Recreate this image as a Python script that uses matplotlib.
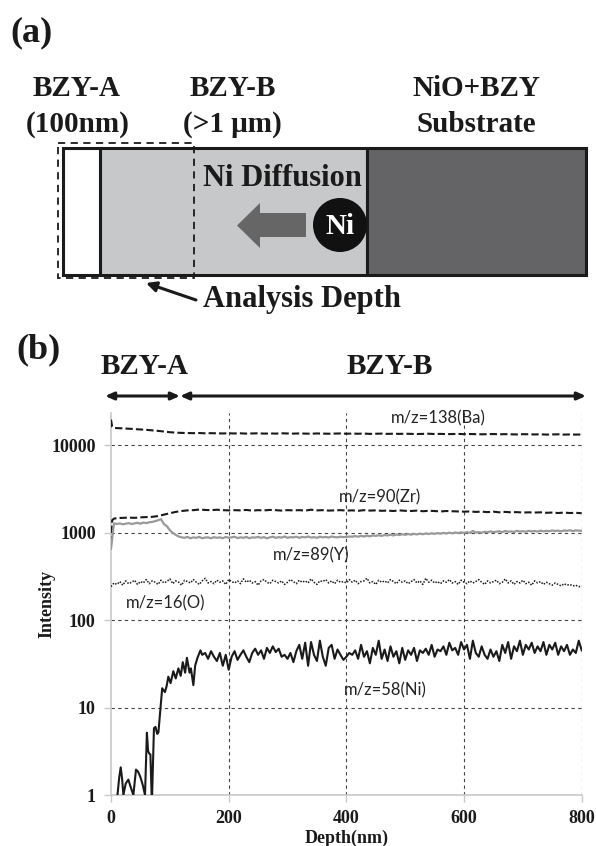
import numpy as np
import matplotlib
matplotlib.use("Agg")
import matplotlib.pyplot as plt
from matplotlib.patches import Rectangle, Circle, Polygon
from matplotlib.ticker import FixedLocator, NullLocator

# ---------------- data ----------------
x_ticks = [0, 200, 400, 600, 800]
y_ticks = [1, 10, 100, 1000, 10000]
y_tick_labels = ["1", "10", "100", "1000", "10000"]

major_depth = np.concatenate([[0, 2, 5], np.arange(10, 801, 10)])
ba_138 = [19500, 16200, 15700,
          15600, 15500, 15350, 15200, 15050, 14900, 14700, 14500, 14250, 14000,
          13850, 13750, 13700, 13650, 13700, 13600, 13650, 13600, 13550, 13600,
          13550, 13600, 13500, 13550, 13600, 13500, 13550, 13500, 13600, 13550,
          13500, 13550, 13500, 13450, 13550, 13500, 13450, 13500, 13550, 13450,
          13500, 13450, 13500, 13400, 13450, 13500, 13400, 13450, 13400, 13450,
          13400, 13350, 13400, 13450, 13350, 13400, 13300, 13350, 13400, 13300,
          13350, 13300, 13250, 13300, 13350, 13250, 13300, 13250, 13200, 13300,
          13250, 13200, 13250, 13150, 13200, 13250, 13150, 13200, 13150, 13200]
zr_90 = [750, 1380, 1440,
         1460, 1470, 1480, 1470, 1490, 1500, 1510, 1540, 1600, 1660,
         1720, 1760, 1790, 1800, 1830, 1810, 1800, 1820, 1800, 1790,
         1800, 1790, 1810, 1780, 1800, 1790, 1810, 1800, 1780, 1800,
         1790, 1800, 1780, 1820, 1790, 1800, 1780, 1790, 1800, 1780,
         1790, 1770, 1800, 1780, 1790, 1770, 1780, 1760, 1790, 1770,
         1760, 1780, 1750, 1770, 1760, 1740, 1760, 1750, 1740, 1730,
         1740, 1720, 1730, 1710, 1730, 1700, 1720, 1700, 1710, 1690,
         1700, 1690, 1700, 1680, 1690, 1670, 1690, 1670, 1680, 1660]

fine_depth = np.arange(0, 801, 5)
y_89 = [650, 1270, 1250, 1270, 1240, 1260, 1280, 1250, 1270, 1290,
        1260, 1300, 1280, 1310, 1320, 1350, 1380, 1420, 1250, 1180,
        1060, 990, 940, 900, 880, 870, 890, 860, 880, 870,
        890, 860, 875, 880, 860, 885, 870, 880, 860, 890,
        870, 880, 895, 865, 880, 870, 890, 860, 880, 875,
        890, 870, 885, 860, 880, 895, 870, 885, 875, 900,
        870, 885, 880, 895, 870, 890, 880, 900, 875, 885,
        870, 895, 880, 890, 875, 900, 885, 880, 895, 885,
        890, 900, 895, 910, 895, 915, 900, 920, 905, 925,
        915, 930, 915, 935, 925, 945, 925, 950, 935, 955,
        940, 960, 945, 965, 950, 970, 955, 975, 960, 980,
        965, 985, 970, 990, 975, 995, 980, 1000, 985, 1005,
        990, 1010, 990, 1040, 1000, 1010, 995, 1020, 1005, 1030,
        1010, 1020, 1035, 1010, 1040, 1020, 1030, 1015, 1045, 1025,
        1035, 1020, 1045, 1030, 1040, 1025, 1050, 1030, 1045, 1035,
        1055, 1040, 1050, 1030, 1055, 1045, 1060, 1040, 1055, 1050, 1045]
o_16 = [240, 265, 255, 275, 250, 280, 260, 270, 285, 255, 275, 265, 290, 260, 280, 270, 255, 285, 265, 275,
        295, 260, 280, 270, 250, 285, 275, 265, 290, 270, 255, 280, 300, 265, 275, 260, 285, 270, 280, 255,
        290, 275, 265, 280, 260, 295, 270, 285, 265, 275, 250, 280, 290, 270, 260, 285, 275, 265, 280, 255,
        270, 290, 275, 260, 285, 270, 280, 265, 295, 270, 255, 280, 275, 290, 265, 280, 260, 285, 270, 275,
        265, 290, 270, 285, 260, 275, 280, 300, 265, 275, 255, 285, 270, 280, 265, 290, 275, 260, 285, 270,
        280, 260, 275, 290, 265, 280, 255, 300, 270, 285, 265, 275, 260, 280, 270, 290, 265, 275, 255, 285,
        270, 260, 280, 265, 275, 290, 270, 255, 280, 265, 275, 285, 260, 270, 295, 265, 280, 255, 275, 265,
        285, 260, 270, 250, 280, 265, 275, 255, 270, 260, 250, 265, 255, 245, 260, 250, 255, 245, 250, 240, 245]

ni_depth_early = [8, 11, 14, 16.5, 19, 21, 25, 29.5, 34, 38, 42.5, 46, 50, 54, 57.8,
                  61, 63, 64.6, 67, 69.5, 73, 75.6, 78.5, 80.6, 87, 91.6, 94.5, 97.4,
                  101.3, 105.9, 110, 114.5, 118.5, 122, 126, 129, 133.5, 135.8, 140,
                  143, 147, 152]
ni_early = [0.5, 1.0, 1.6, 2.07, 1.5, 1.0, 1.35, 1.5, 1.2, 1.0, 1.95, 1.85, 1.6, 1.3, 1.0,
            5.15, 3.2, 3.0, 2.9, 0.8, 5.8, 6.0, 5.0, 5.2, 16.6, 15, 17.5, 22.5,
            19, 26, 21.5, 28, 23, 33, 25, 37, 25, 28, 18,
            30, 37, 45]
ni_depth_late = np.arange(155, 801, 5)
ni_late = [40, 42, 36, 44, 38, 34, 42, 30, 40, 27,
           38, 44, 35, 40, 45, 38, 33, 42, 47, 40,
           45, 36, 48, 42, 50, 43, 47, 38, 40, 36,
           42, 33, 44, 52, 36, 55, 30, 56, 40, 34,
           58, 38, 30, 48, 52, 36, 46, 40, 35, 38,
           42, 40, 45, 36, 52, 38, 44, 32, 48, 40,
           58, 36, 46, 34, 50, 38, 44, 32, 48, 35,
           45, 40, 48, 34, 45, 42, 47, 40, 52, 38,
           46, 44, 50, 40, 55, 45, 48, 40, 56, 46,
           52, 36, 58, 42, 38, 50, 40, 36, 46, 38,
           44, 34, 52, 42, 56, 36, 50, 44, 58, 40,
           52, 46, 55, 42, 50, 44, 56, 40, 52, 46,
           55, 40, 50, 44, 52, 40, 46, 42, 58, 45]
ni_depth = np.concatenate([ni_depth_early, ni_depth_late])
ni_58 = np.array(ni_early + ni_late, dtype=float)

# ---------------- figure ----------------
W, H = 596, 846
fig = plt.figure(figsize=(W / 100, H / 100), dpi=100)
SERIF = ["Liberation Serif", "DejaVu Serif"]
SANS = ["Lato", "DejaVu Sans"]

deco = fig.add_axes([0, 0, 1, 1], zorder=0)
deco.set_xlim(0, W)
deco.set_ylim(H, 0)
deco.axis("off")

def txt(x, y, s, size, ha="center", color="#1a1a1a", **kw):
    deco.text(x, y, s, fontsize=size, ha=ha, va="center", color=color,
              family=SERIF, fontweight="bold", **kw)

# (a) schematic
txt(31, 33, "(a)", 26)
txt(77, 88, "BZY-A", 21)
txt(78, 124, "(100nm)", 21)
txt(233, 88, "BZY-B", 21)
txt(232, 124, "(>1 μm)", 21)
txt(476, 88, "NiO+BZY", 21)
txt(476, 124, "Substrate", 21)

deco.add_patch(Rectangle((100, 148), 267, 127, fc="#c7c8ca", ec="#1a1a1a", lw=2.2))
deco.add_patch(Rectangle((367, 148), 219, 127, fc="#646466", ec="#1a1a1a", lw=2.2))
deco.add_patch(Rectangle((63, 148), 37, 127, fc="white", ec="#1a1a1a", lw=2.2))
deco.add_patch(Rectangle((58, 143), 136, 135, fill=False, ec="#1a1a1a", lw=1.3,
                         ls=(0, (4, 3))))
txt(203, 179, "Ni Diffusion", 22, ha="left")
deco.add_patch(Polygon([(237, 225.5), (260, 203), (260, 213), (306, 213), (306, 237),
                        (260, 237), (260, 248)], closed=True, fc="#666666", ec="none"))
deco.add_patch(Circle((340, 225), 27, fc="#111111", ec="none"))
txt(340, 226, "Ni", 21, color="white")
deco.annotate("", xy=(146, 283), xytext=(196, 300),
              arrowprops=dict(arrowstyle="-|>,head_length=0.6,head_width=0.3",
                              color="#1a1a1a", lw=2.2, shrinkA=0, shrinkB=0))
txt(203, 300, "Analysis Depth", 22, ha="left")

# (b) header
txt(38, 350, "(b)", 26)
txt(145, 366, "BZY-A", 21)
txt(390, 366, "BZY-B", 21)
for xa, xb in [(105, 180), (180, 586)]:
    deco.annotate("", xy=(xb, 396), xytext=(xa, 396),
                  arrowprops=dict(arrowstyle="<|-|>,head_length=0.5,head_width=0.22",
                                  color="#1a1a1a", lw=2.2, shrinkA=0, shrinkB=0))

# ---------------- plot ----------------
left_px, right_px, bottom_px, top_px = 111, 581.7, 795, 413
dec_px = 87.5
ax = fig.add_axes([left_px / W, 1 - bottom_px / H, (right_px - left_px) / W,
                   (bottom_px - top_px) / H], zorder=1)
ax.set_yscale("log")
ax.set_xlim(0, 800)
ax.set_ylim(1, 10 ** ((bottom_px - top_px) / dec_px))

grid_kw = dict(color="#444444", lw=0.8, ls=(0, (3, 3)), zorder=1)
for yv in y_ticks[1:]:
    ax.axhline(yv, **grid_kw)
for xv in x_ticks[1:]:
    ax.axvline(xv, **grid_kw)

ax.plot(major_depth, ba_138, color="#1a1a1a", lw=1.5, ls=(0, (3.5, 1.5)), zorder=3)
ax.plot(major_depth, zr_90, color="#1a1a1a", lw=1.5, ls=(0, (3.5, 1.5)), zorder=3)
ax.plot(fine_depth, y_89, color="#999999", lw=1.6, zorder=3)
ax.plot(fine_depth, o_16, color="#1a1a1a", lw=1.1, ls=(0, (1, 1)), zorder=3)
ax.plot(ni_depth, ni_58, color="#1a1a1a", lw=1.5, zorder=3)

lab_kw = dict(fontsize=12, family=SANS, color="#222222", ha="center", va="center",
              transform=deco.transData, zorder=5)
ax.text(438, 418, "m/z=138(Ba)", **lab_kw)
ax.text(380, 497, "m/z=90(Zr)", **lab_kw)
ax.text(311, 555, "m/z=89(Y)", **lab_kw)
ax.text(166, 603, "m/z=16(O)", **lab_kw)
ax.text(385, 690, "m/z=58(Ni)", **lab_kw)

for side in ["top", "right"]:
    ax.spines[side].set_visible(False)
for side in ["left", "bottom"]:
    ax.spines[side].set_color("#c8c8c8")
    ax.spines[side].set_linewidth(1.2)
ax.yaxis.set_major_locator(FixedLocator(y_ticks))
ax.yaxis.set_minor_locator(NullLocator())
ax.set_yticklabels(y_tick_labels)
ax.set_xticks(x_ticks)
ax.tick_params(axis="both", which="major", length=5, width=1, color="#c8c8c8",
               labelsize=13, pad=6)
for lbl in ax.get_xticklabels() + ax.get_yticklabels():
    lbl.set_family(SERIF)
    lbl.set_fontweight("bold")
    lbl.set_color("#1a1a1a")
ax.set_xlabel("Depth(nm)", family=SERIF, fontweight="bold", fontsize=13,
              color="#1a1a1a", labelpad=2)
ax.set_ylabel("Intensity", family=SERIF, fontweight="bold", fontsize=13,
              color="#1a1a1a")
ax.yaxis.set_label_coords((55 - left_px) / (right_px - left_px), 0.5)

fig.savefig("out.png", dpi=100)
